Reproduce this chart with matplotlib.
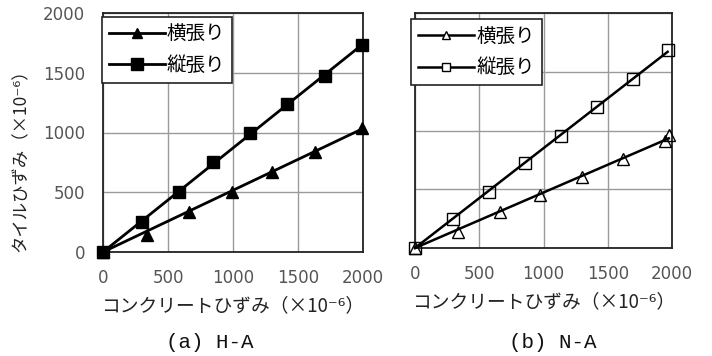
import numpy as np
import matplotlib
matplotlib.use("Agg")
import matplotlib.pyplot as plt
from matplotlib.lines import Line2D

plt.rcParams['font.family'] = ['Noto Sans CJK JP', 'DejaVu Sans']

# ---- data ----
ha_yoko_x = [0, 336, 664, 990, 1297, 1631, 1990]
ha_yoko_y = [0, 142, 337, 505, 672, 839, 1040]
ha_tate_x = [0, 297, 585, 849, 1131, 1413, 1708, 1990]
ha_tate_y = [0, 254, 505, 750, 993, 1238, 1473, 1730]

na_yoko_x = [0, 332, 662, 973, 1297, 1621, 1946, 1975]
na_yoko_y = [0, 139, 309, 451, 607, 755, 913, 960]
na_tate_x = [0, 299, 578, 856, 1136, 1414, 1694, 1966]
na_tate_y = [0, 247, 479, 721, 957, 1197, 1438, 1685]

ticks = [0, 500, 1000, 1500, 2000]
labels = ["横張り", "縦張り"]
xlabel = "コンクリートひずみ（×10⁻⁶）"
ylabel = "タイルひずみ（×10⁻⁶）"
subtitles = ["(a) H-A", "(b) N-A"]

fig = plt.figure(figsize=(7.12, 3.56), dpi=100)
ax1 = fig.add_axes([103/712, 1-252/356, 260/712, 239/356])
ax2 = fig.add_axes([415/712, 1-248/356, 257/712, 235/356])

def fit_line(ax, x, y, lw):
    x = np.asarray(x, float); y = np.asarray(y, float)
    k = np.sum(x*y)/np.sum(x*x)
    xs = np.array([0, max(x)])
    ax.plot(xs, k*xs, color='black', lw=lw, zorder=3, clip_on=False)

def setup(ax, show_y):
    ax.set_xlim(0, 2000); ax.set_ylim(0, 2000)
    ax.set_xticks(ticks); ax.set_yticks(ticks)
    ax.grid(True, color='#9a9a9a', lw=1.0)
    ax.set_axisbelow(True)
    for s in ax.spines.values():
        s.set_linewidth(1.3); s.set_color('#222222')
    ax.tick_params(axis='x', length=0, pad=12, labelsize=12, colors='#555555')
    ax.tick_params(axis='y', length=0, pad=13, labelsize=12, colors='#555555')
    for t in ax.get_xticklabels() + ax.get_yticklabels():
        t.set_family('DejaVu Sans')
    if not show_y:
        ax.set_yticklabels([])
    ax.set_xlabel(xlabel, fontsize=13.5, color='#222222', labelpad=6)

# left: filled markers
fit_line(ax1, ha_yoko_x, ha_yoko_y, 2.0)
fit_line(ax1, ha_tate_x, ha_tate_y, 2.0)
ax1.plot(ha_yoko_x, ha_yoko_y, ls='none', marker='^', ms=8, color='black', zorder=4, clip_on=False)
ax1.plot(ha_tate_x, ha_tate_y, ls='none', marker='s', ms=9, color='black', zorder=4, clip_on=False)
setup(ax1, True)
ax1.set_ylabel(ylabel, fontsize=12.5, color='#222222')
ax1.yaxis.set_label_coords(-73/260, 0.4)
h1 = [Line2D([], [], color='black', lw=2.0, marker='^', ms=7),
      Line2D([], [], color='black', lw=2.0, marker='s', ms=8)]
leg1 = ax1.legend(h1, labels, loc='upper left', bbox_to_anchor=(-0.005, 0.985),
                  fancybox=False, framealpha=1, edgecolor='#222222', fontsize=14,
                  handlelength=2.9, handletextpad=0.1, labelspacing=0.55,
                  borderpad=0.35, borderaxespad=0, numpoints=1)
leg1.get_frame().set_linewidth(1.2)

# right: open markers
fit_line(ax2, na_yoko_x, na_yoko_y, 1.8)
fit_line(ax2, na_tate_x, na_tate_y, 1.8)
ax2.plot(na_yoko_x, na_yoko_y, ls='none', marker='^', ms=8, mfc='none', mec='black',
         mew=1.0, zorder=4, clip_on=False)
ax2.plot(na_tate_x, na_tate_y, ls='none', marker='s', ms=8.5, mfc='none', mec='black',
         mew=1.0, zorder=4, clip_on=False)
setup(ax2, False)
h2 = [Line2D([], [], color='black', lw=1.8, marker='^', ms=6, mfc='white', mec='black', mew=1.0),
      Line2D([], [], color='black', lw=1.8, marker='s', ms=6, mfc='white', mec='black', mew=1.0)]
leg2 = ax2.legend(h2, labels, loc='upper left', bbox_to_anchor=(-0.015, 0.975),
                  fancybox=False, framealpha=1, edgecolor='#222222', fontsize=14,
                  handlelength=2.9, handletextpad=0.1, labelspacing=0.55,
                  borderpad=0.35, borderaxespad=0, numpoints=1)
leg2.get_frame().set_linewidth(1.2)

fig.text(210/712, 1-342/356, subtitles[0], fontsize=15, family='Liberation Mono',
         ha='center', va='center', color='#111111')
fig.text(553/712, 1-342/356, subtitles[1], fontsize=15, family='Liberation Mono',
         ha='center', va='center', color='#111111')

fig.savefig("out.png", dpi=100)
